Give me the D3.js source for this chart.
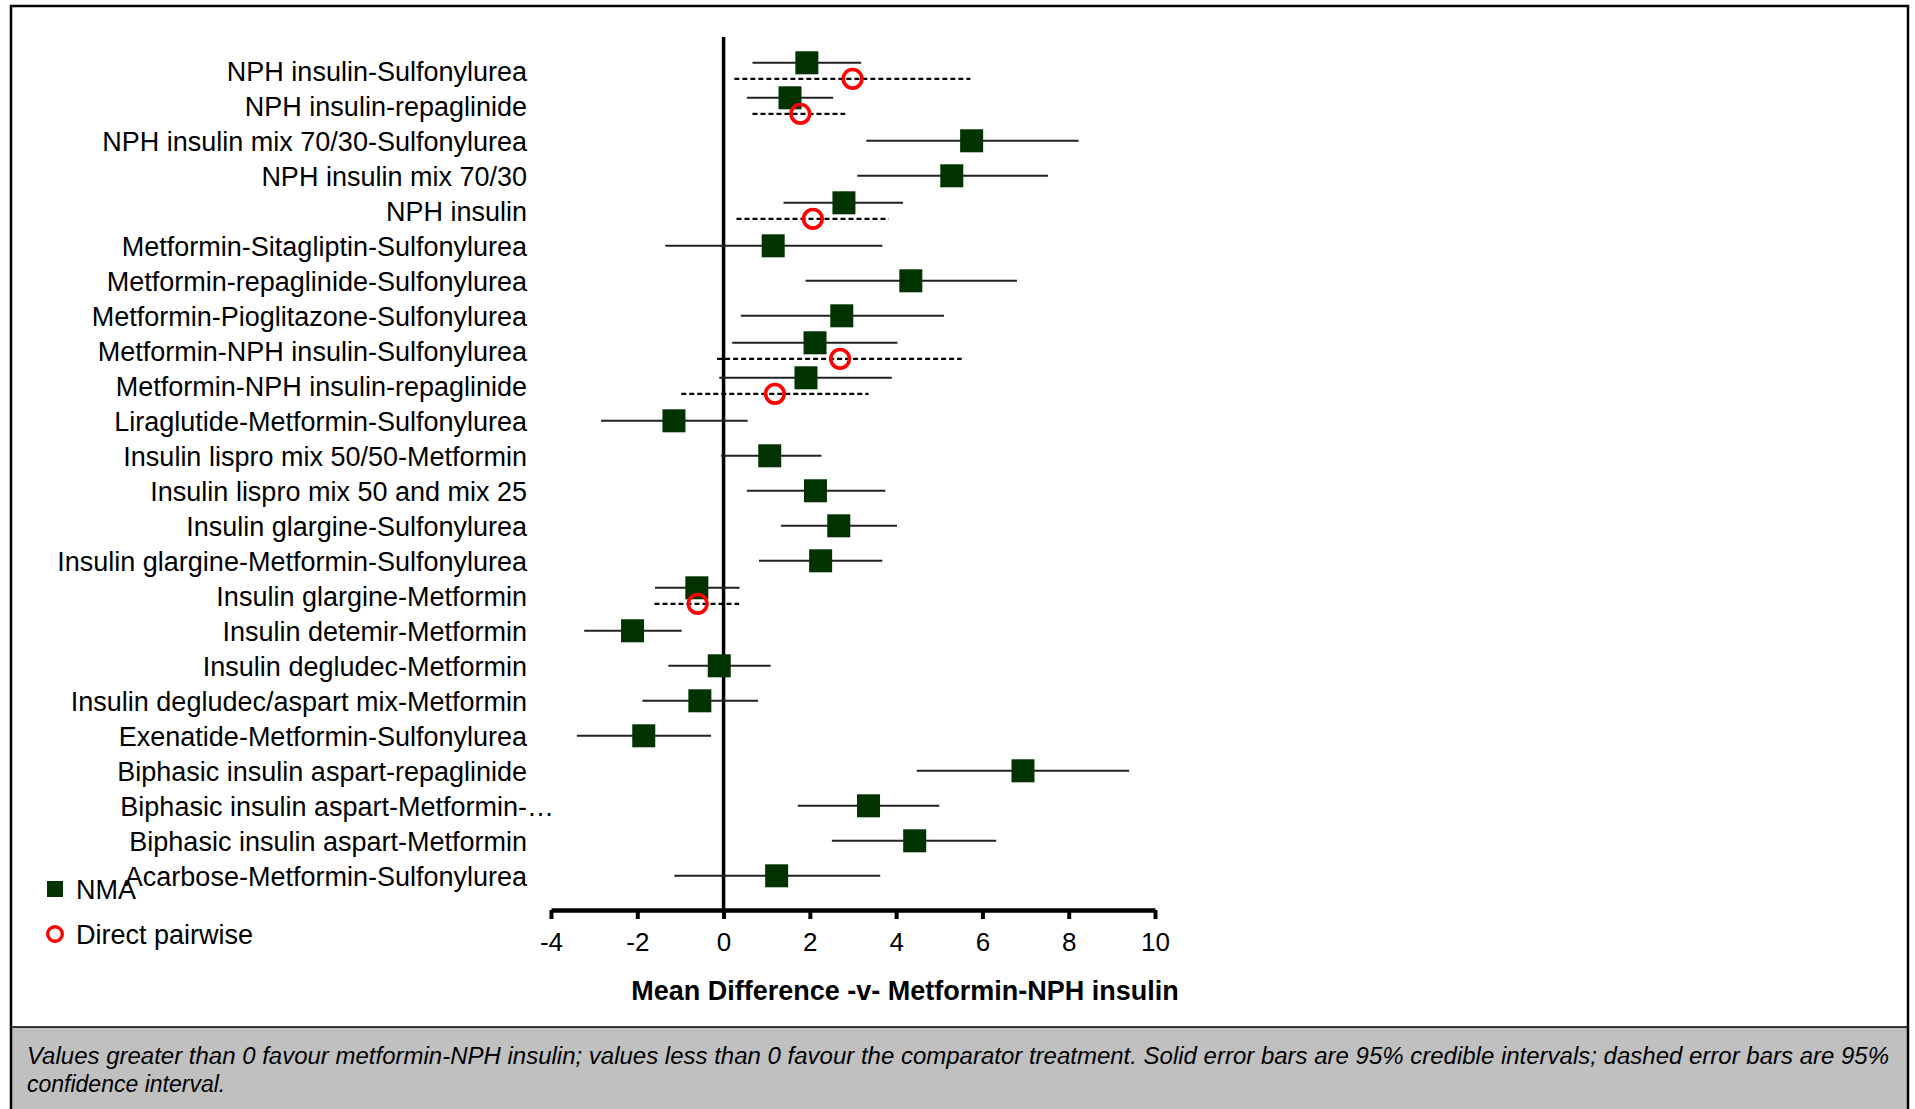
<!DOCTYPE html>
<html>
<head>
<meta charset="utf-8">
<script src="https://cdn.jsdelivr.net/npm/d3@7"></script>
<style>
  html, body { margin: 0; padding: 0; background: #fff; }
  svg { display: block; font-family: "Liberation Sans", Arial, sans-serif; }
</style>
</head>
<body>
<svg id="chart" width="1915" height="1109"></svg>
<script>
// ---------------- data ----------------
const categories = [
  "NPH insulin-Sulfonylurea",
  "NPH insulin-repaglinide",
  "NPH insulin mix 70/30-Sulfonylurea",
  "NPH insulin mix 70/30",
  "NPH insulin",
  "Metformin-Sitagliptin-Sulfonylurea",
  "Metformin-repaglinide-Sulfonylurea",
  "Metformin-Pioglitazone-Sulfonylurea",
  "Metformin-NPH insulin-Sulfonylurea",
  "Metformin-NPH insulin-repaglinide",
  "Liraglutide-Metformin-Sulfonylurea",
  "Insulin lispro mix 50/50-Metformin",
  "Insulin lispro mix 50 and mix 25",
  "Insulin glargine-Sulfonylurea",
  "Insulin glargine-Metformin-Sulfonylurea",
  "Insulin glargine-Metformin",
  "Insulin detemir-Metformin",
  "Insulin degludec-Metformin",
  "Insulin degludec/aspart mix-Metformin",
  "Exenatide-Metformin-Sulfonylurea",
  "Biphasic insulin aspart-repaglinide",
  "Biphasic insulin aspart-Metformin-…",
  "Biphasic insulin aspart-Metformin",
  "Acarbose-Metformin-Sulfonylurea"
];

// NMA (95% credible intervals)
const nmaMean = [1.93, 1.54, 5.75, 5.29, 2.79, 1.15, 4.34, 2.74, 2.12, 1.91, -1.15, 1.07,
                 2.13, 2.67, 2.25, -0.62, -2.11, -0.10, -0.55, -1.85, 6.94, 3.36, 4.43, 1.23];
const nmaLow  = [0.67, 0.54, 3.31, 3.10, 1.39, -1.35, 1.90, 0.40, 0.20, -0.10, -2.84, -0.06,
                 0.54, 1.33, 0.82, -1.59, -3.23, -1.28, -1.88, -3.40, 4.48, 1.72, 2.51, -1.14];
const nmaHigh = [3.19, 2.54, 8.23, 7.52, 4.16, 3.68, 6.80, 5.11, 4.03, 3.90, 0.56, 2.27,
                 3.75, 4.02, 3.68, 0.37, -0.97, 1.09, 0.80, -0.29, 9.40, 5.00, 6.32, 3.63];

// Direct pairwise (95% confidence intervals); null = no direct estimate
const pwMean = [2.99, 1.78, null, null, 2.07, null, null, null, 2.70, 1.19, null, null,
                null, null, null, -0.60, null, null, null, null, null, null, null, null];
const pwLow  = [0.25, 0.67, null, null, 0.30, null, null, null, -0.15, -0.98, null, null,
                null, null, null, -1.60, null, null, null, null, null, null, null, null];
const pwHigh = [5.72, 2.82, null, null, 3.83, null, null, null, 5.52, 3.36, null, null,
                null, null, null, 0.36, null, null, null, null, null, null, null, null];

const xTicks = [-4, -2, 0, 2, 4, 6, 8, 10];
const xTitle = "Mean Difference -v- Metformin-NPH insulin";
const legendLabels = ["NMA", "Direct pairwise"];
const footnote1 = "Values greater than 0 favour metformin-NPH insulin; values less than 0 favour the comparator treatment. Solid error bars are 95% credible intervals; dashed error bars are 95%";
const footnote2 = "confidence interval.";

// ---------------- build ----------------
const rows = categories.map((c, i) => ({
  cat: c, i,
  m: nmaMean[i], lo: nmaLow[i], hi: nmaHigh[i],
  pm: pwMean[i], plo: pwLow[i], phi: pwHigh[i],
  hasPw: pwMean[i] !== null
}));

const svg = d3.select("#chart");
const GREEN = "#003300", RED = "#ff0000";

// frame
svg.append("rect").attr("x", 0).attr("y", 0).attr("width", 1915).attr("height", 1109).attr("fill", "#fff");
svg.append("rect").attr("x", 11).attr("y", 1027).attr("width", 1897).attr("height", 90)
   .attr("fill", "#c0c0c0");
svg.append("line").attr("x1", 11).attr("x2", 1908).attr("y1", 1027).attr("y2", 1027)
   .attr("stroke", "#000").attr("stroke-width", 1.5);
svg.append("rect").attr("x", 11).attr("y", 6).attr("width", 1897).attr("height", 1120)
   .attr("fill", "none").attr("stroke", "#000").attr("stroke-width", 2.5);

const x = d3.scaleLinear().domain([-4, 10]).range([551, 1155]);
const y = d3.scalePoint().domain(categories).range([70.8, 875.8]);
const axisY = 910;
const off = 8;

// zero reference line
svg.append("line").attr("x1", x(0)).attr("x2", x(0)).attr("y1", 37).attr("y2", axisY)
   .attr("stroke", "#000").attr("stroke-width", 3.5);

// labels
const labelX = 527;
const lab = svg.append("g").attr("font-size", 27).attr("fill", "#000");
rows.forEach(r => {
  const parts = r.cat.split("…");
  lab.append("text").attr("x", labelX).attr("y", y(r.cat)).attr("dy", "0.36em")
     .attr("text-anchor", "end").text(parts[0]);
  if (parts.length > 1) {
    lab.append("text").attr("x", labelX).attr("y", y(r.cat)).attr("dy", "0.36em")
       .attr("text-anchor", "start").text("…");
  }
});

// solid NMA error bars
const g = svg.append("g");
g.selectAll("line.nma").data(rows).join("line").attr("class", "nma")
  .attr("x1", d => x(d.lo)).attr("x2", d => x(d.hi))
  .attr("y1", d => y(d.cat) - (d.hasPw ? off : 0)).attr("y2", d => y(d.cat) - (d.hasPw ? off : 0))
  .attr("stroke", "#222").attr("stroke-width", 2);

// dashed pairwise error bars
const pwRows = rows.filter(d => d.hasPw);
g.selectAll("line.pw").data(pwRows).join("line").attr("class", "pw")
  .attr("x1", d => x(d.plo)).attr("x2", d => x(d.phi))
  .attr("y1", d => y(d.cat) + off).attr("y2", d => y(d.cat) + off)
  .attr("stroke", "#000").attr("stroke-width", 2.2).attr("stroke-dasharray", "5,3");

// NMA squares
const sq = 23;
g.selectAll("rect.nma").data(rows).join("rect").attr("class", "nma")
  .attr("x", d => x(d.m) - sq / 2)
  .attr("y", d => y(d.cat) - (d.hasPw ? off : 0) - sq / 2)
  .attr("width", sq).attr("height", sq).attr("fill", GREEN);

// pairwise circles
g.selectAll("circle.pw").data(pwRows).join("circle").attr("class", "pw")
  .attr("cx", d => x(d.pm)).attr("cy", d => y(d.cat) + off)
  .attr("r", 9.3).attr("fill", "none").attr("stroke", RED).attr("stroke-width", 3.6);

// x axis
const axis = d3.axisBottom(x).tickValues(xTicks).tickSize(9).tickSizeOuter(0).tickPadding(14)
  .tickFormat(d3.format("d"));
const ax = svg.append("g").attr("transform", `translate(0,${axisY})`).call(axis);
ax.select(".domain").attr("stroke", "#000").attr("stroke-width", 4.5);
ax.selectAll(".tick line").attr("stroke", "#000").attr("stroke-width", 4);
ax.selectAll(".tick text").attr("font-size", 26).attr("fill", "#000")
  .attr("font-family", "Liberation Sans, Arial, sans-serif")
  .text(d => d < 0 ? "-" + Math.abs(d) : String(d));

svg.append("text").attr("x", 905).attr("y", 1000).attr("text-anchor", "middle")
   .attr("font-size", 27).attr("font-weight", "bold").text(xTitle);

// legend
const leg = svg.append("g").attr("font-size", 27);
leg.append("rect").attr("x", 55 - 8).attr("y", 889 - 8).attr("width", 16).attr("height", 16).attr("fill", GREEN);
leg.append("text").attr("x", 76).attr("y", 889).attr("dy", "0.36em").text(legendLabels[0]);
leg.append("circle").attr("cx", 55).attr("cy", 934).attr("r", 7.3).attr("fill", "none")
   .attr("stroke", RED).attr("stroke-width", 3.4);
leg.append("text").attr("x", 76).attr("y", 934).attr("dy", "0.36em").text(legendLabels[1]);

// footnote
const ft = svg.append("g").attr("font-size", 23).attr("font-style", "italic").attr("fill", "#000");
ft.append("text").attr("x", 27).attr("y", 1064).attr("textLength", 1862)
  .attr("lengthAdjust", "spacingAndGlyphs").text(footnote1);
ft.append("text").attr("x", 27).attr("y", 1092).text(footnote2);
</script>
</body>
</html>
